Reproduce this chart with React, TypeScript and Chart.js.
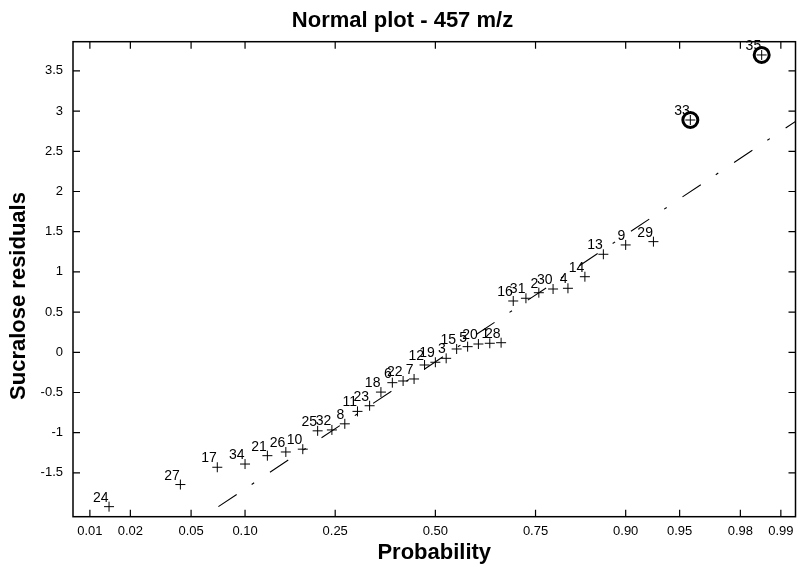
import { useEffect, useRef } from 'react';
import { Chart, registerables } from 'chart.js';

Chart.register(...registerables);

// ---- data ----
const pointLabels = ['24', '27', '17', '34', '21', '26', '10', '25', '32', '8', '11', '23', '18', '6', '22', '7', '12', '19', '3', '15', '5', '20', '1', '28', '16', '31', '2', '30', '4', '14', '13', '9', '29', '33', '35'];
const pointProb = [0.014, 0.043, 0.071, 0.1, 0.129, 0.157, 0.186, 0.214, 0.243, 0.271, 0.3, 0.329, 0.357, 0.386, 0.414, 0.443, 0.471, 0.5, 0.529, 0.557, 0.586, 0.614, 0.643, 0.671, 0.7, 0.729, 0.757, 0.786, 0.814, 0.843, 0.871, 0.9, 0.929, 0.957, 0.986];
const residuals = [-1.92, -1.645, -1.43, -1.39, -1.286, -1.24, -1.205, -0.977, -0.966, -0.89, -0.735, -0.665, -0.495, -0.378, -0.357, -0.332, -0.158, -0.124, -0.075, 0.041, 0.07, 0.103, 0.112, 0.119, 0.638, 0.672, 0.741, 0.787, 0.796, 0.94, 1.219, 1.335, 1.376, 2.889, 3.698];
const circledLabels = ['33', '35'];

const fitLineProb = [0.072, 0.9925];
const fitLineY = [-1.92, 2.88];

const probTicks = [0.01, 0.02, 0.05, 0.1, 0.25, 0.5, 0.75, 0.9, 0.95, 0.98, 0.99];
const probTickLabels = ['0.01', '0.02', '0.05', '0.10', '0.25', '0.50', '0.75', '0.90', '0.95', '0.98', '0.99'];
const yTicks = [-1.5, -1, -0.5, 0, 0.5, 1, 1.5, 2, 2.5, 3, 3.5];

const titleText = 'Normal plot - 457 m/z';
const xTitle = 'Probability';
const yTitle = 'Sucralose residuals';

// normal quantile (probability axis transform)
function probit(p: number): number {
  const a = [-3.969683028665376e1, 2.209460984245205e2, -2.759285104469687e2, 1.38357751867269e2, -3.066479806614716e1, 2.506628277459239];
  const b = [-5.447609879822406e1, 1.615858368580409e2, -1.556989798598866e2, 6.680131188771972e1, -1.328068155288572e1];
  const c = [-7.784894002430293e-3, -3.223964580411365e-1, -2.400758277161838, -2.549732539343734, 4.374664141464968, 2.938163982698783];
  const d = [7.784695709041462e-3, 3.224671290700398e-1, 2.445134137142996, 3.754408661907416];
  const pl = 0.02425;
  if (p < pl) {
    const q = Math.sqrt(-2 * Math.log(p));
    return (((((c[0] * q + c[1]) * q + c[2]) * q + c[3]) * q + c[4]) * q + c[5]) / ((((d[0] * q + d[1]) * q + d[2]) * q + d[3]) * q + 1);
  }
  if (p <= 1 - pl) {
    const q = p - 0.5;
    const r = q * q;
    return ((((((a[0] * r + a[1]) * r + a[2]) * r + a[3]) * r + a[4]) * r + a[5]) * q) / (((((b[0] * r + b[1]) * r + b[2]) * r + b[3]) * r + b[4]) * r + 1);
  }
  const q = Math.sqrt(-2 * Math.log(1 - p));
  return -(((((c[0] * q + c[1]) * q + c[2]) * q + c[3]) * q + c[4]) * q + c[5]) / ((((d[0] * q + d[1]) * q + d[2]) * q + d[3]) * q + 1);
}

const FONT = '"Liberation Sans", Arial, Helvetica, sans-serif';

const framePlugin = {
  id: 'matlabFrame',
  afterDatasetsDraw(chart: any) {
    const ctx = chart.ctx;
    const meta = chart.getDatasetMeta(0);
    ctx.save();
    ctx.fillStyle = '#000';
    ctx.font = `14px ${FONT}`;
    ctx.textAlign = 'right';
    ctx.textBaseline = 'alphabetic';
    meta.data.forEach((el: any, i: number) => {
      ctx.fillText(pointLabels[i], el.x - 0.5, el.y - 5);
    });
    ctx.restore();
  },
  afterDraw(chart: any) {
    const ctx = chart.ctx;
    const { left, right, top, bottom } = chart.chartArea;
    const xs = chart.scales.x;
    const ys = chart.scales.y;
    const tl = 7;
    ctx.save();
    ctx.strokeStyle = '#000';
    ctx.lineWidth = 1.5;
    ctx.strokeRect(left, top, right - left, bottom - top);
    ctx.lineWidth = 1.2;
    ctx.beginPath();
    probTicks.forEach((p) => {
      const x = xs.getPixelForValue(probit(p));
      ctx.moveTo(x, bottom);
      ctx.lineTo(x, bottom - tl);
      ctx.moveTo(x, top);
      ctx.lineTo(x, top + tl);
    });
    yTicks.forEach((v) => {
      const y = ys.getPixelForValue(v);
      ctx.moveTo(left, y);
      ctx.lineTo(left + tl, y);
      ctx.moveTo(right, y);
      ctx.lineTo(right - tl, y);
    });
    ctx.stroke();

    ctx.fillStyle = '#000';
    ctx.font = `bold 22px ${FONT}`;
    ctx.textAlign = 'center';
    ctx.textBaseline = 'middle';
    ctx.fillText(xTitle, (left + right) / 2, 553);
    ctx.translate(19, 296);
    ctx.rotate(-Math.PI / 2);
    ctx.fillText(yTitle, 0, 0);
    ctx.restore();
  },
};

export default function App() {
  const ref = useRef<HTMLCanvasElement | null>(null);

  useEffect(() => {
    if (!ref.current) return;
    const pts = pointProb.map((p, i) => ({ x: probit(p), y: residuals[i] }));
    const circled = pointLabels
      .map((l, i) => ({ l, i }))
      .filter((o) => circledLabels.includes(o.l))
      .map((o) => ({ x: probit(pointProb[o.i]), y: residuals[o.i] }));
    const fit = fitLineProb.map((p, i) => ({ x: probit(p), y: fitLineY[i] }));

    const chart = new Chart(ref.current, {
      type: 'scatter',
      data: {
        datasets: [
          {
            data: pts,
            pointStyle: 'cross',
            pointRadius: 5,
            pointBorderWidth: 1,
            borderColor: '#000',
            backgroundColor: '#000',
            showLine: false,
          },
          {
            data: circled,
            pointStyle: 'circle',
            pointRadius: 7.5,
            pointBorderWidth: 3,
            borderColor: '#000',
            backgroundColor: 'rgba(0,0,0,0)',
            showLine: false,
          },
          {
            type: 'line',
            data: fit,
            borderColor: '#000',
            borderWidth: 1.1,
            borderDash: [22, 18, 3, 19],
            pointRadius: 0,
            fill: false,
            tension: 0,
          } as any,
        ],
      },
      options: {
        responsive: false,
        animation: false,
        events: [],
        layout: { padding: { left: 0, right: 1, top: 0, bottom: 0 } },
        plugins: {
          legend: { display: false },
          tooltip: { enabled: false },
          title: {
            display: true,
            text: titleText,
            color: '#000',
            font: { family: FONT, size: 22, weight: 'bold' },
            padding: { top: 7.3, bottom: 8 },
          },
        },
        scales: {
          x: {
            type: 'linear',
            min: -2.44,
            max: 2.425,
            afterBuildTicks: (s: any) => {
              s.ticks = probTicks.map((p) => ({ value: probit(p) }));
            },
            afterFit: (s: any) => {
              s.height = 52.3;
            },
            ticks: {
              callback: (_v: any, i: number) => probTickLabels[i],
              color: '#000',
              font: { family: FONT, size: 13 },
              padding: 6.5,
              maxRotation: 0,
              autoSkip: false,
            },
            grid: { display: false, drawTicks: false },
            border: { display: false },
          },
          y: {
            type: 'linear',
            min: -2.045,
            max: 3.863,
            afterBuildTicks: (s: any) => {
              s.ticks = yTicks.map((v) => ({ value: v }));
            },
            afterFit: (s: any) => {
              s.width = 73;
            },
            ticks: {
              callback: (v: any) => String(v),
              color: '#000',
              font: { family: FONT, size: 13 },
              padding: 10,
              autoSkip: false,
            },
            grid: { display: false, drawTicks: false },
            border: { display: false },
          },
        },
      },
      plugins: [framePlugin],
    });
    return () => chart.destroy();
  }, []);

  return (
    <canvas
      ref={ref}
      width={806}
      height={569}
      style={{ position: 'fixed', left: 0, top: 0, width: 806, height: 569, background: '#fff' }}
    />
  );
}
